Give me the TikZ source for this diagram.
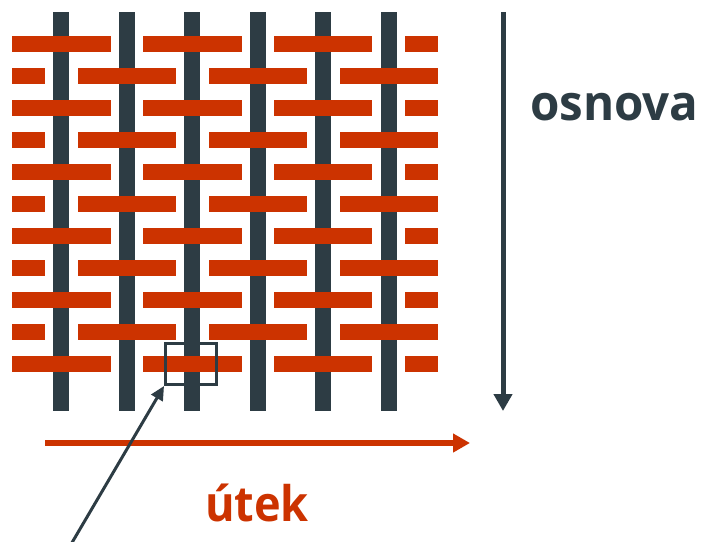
\documentclass[tikz,border=0pt]{standalone}
\usepackage{fontspec}
\setmainfont{Open Sans}
\newfontfamily\labelfont[FakeStretch=0.92]{Open Sans}
\newfontfamily\widelabelfont[FakeStretch=0.97]{Open Sans}
\usetikzlibrary{arrows.meta}
\definecolor{warpcol}{HTML}{2D3C44}
\definecolor{weftcol}{HTML}{CC3300}
\begin{document}
\begin{tikzpicture}[x=1pt,y=-1pt,
  warpthread/.style={fill=warpcol},
  weftthread/.style={fill=weftcol},
  dirarrow/.style={line width=#1, -{Triangle[width=18pt,length=17pt]}},
  label/.style={inner sep=0pt, font=#1\bfseries\fontsize{49}{49}\selectfont}]
\useasboundingbox (0,0) rectangle (703,541);
% warp threads (vertical)
\foreach \c in {61,127,192,258,323,389}
  \fill[warpthread] (\c-8,12) rectangle (\c+8,411);
% weft threads (horizontal), two alternating row patterns
\foreach \y in {44,108,172,236,300,364}
  \foreach \a/\b in {12/111,143/242,274/372,405/438}
    \fill[weftthread] (\a,\y-8) rectangle (\b,\y+8);
\foreach \y in {76,140,204,268,332}
  \foreach \a/\b in {12/45,78/176,209/307,340/438}
    \fill[weftthread] (\a,\y-8) rectangle (\b,\y+8);
% direction arrows
\coordinate (warptop) at (503,12);
\coordinate (warpend) at (503,411);
\draw[dirarrow=5pt, warpcol] (warptop) -- (warpend);
\coordinate (weftstart) at (45,443);
\coordinate (weftend) at (470,443);
\draw[dirarrow=6pt, weftcol] (weftstart) -- (weftend);
% labels
\node[label=\widelabelfont, text=warpcol, anchor=base west] (osnova) at (530,120.5) {osnova};
\node[label=\labelfont, text=weftcol, anchor=base] (utek) at (257,521) {útek};
% highlighted crossing and its pointer
\node[draw=warpcol, line width=3pt, minimum width=51pt, minimum height=41pt, inner sep=0pt] (cell) at (191,364) {};
\coordinate (tail) at (70.6,545);
\draw[warpcol, line width=3pt, -{Triangle[width=13pt,length=14pt]}] (tail) -- (cell.south west);
\end{tikzpicture}
\end{document}
